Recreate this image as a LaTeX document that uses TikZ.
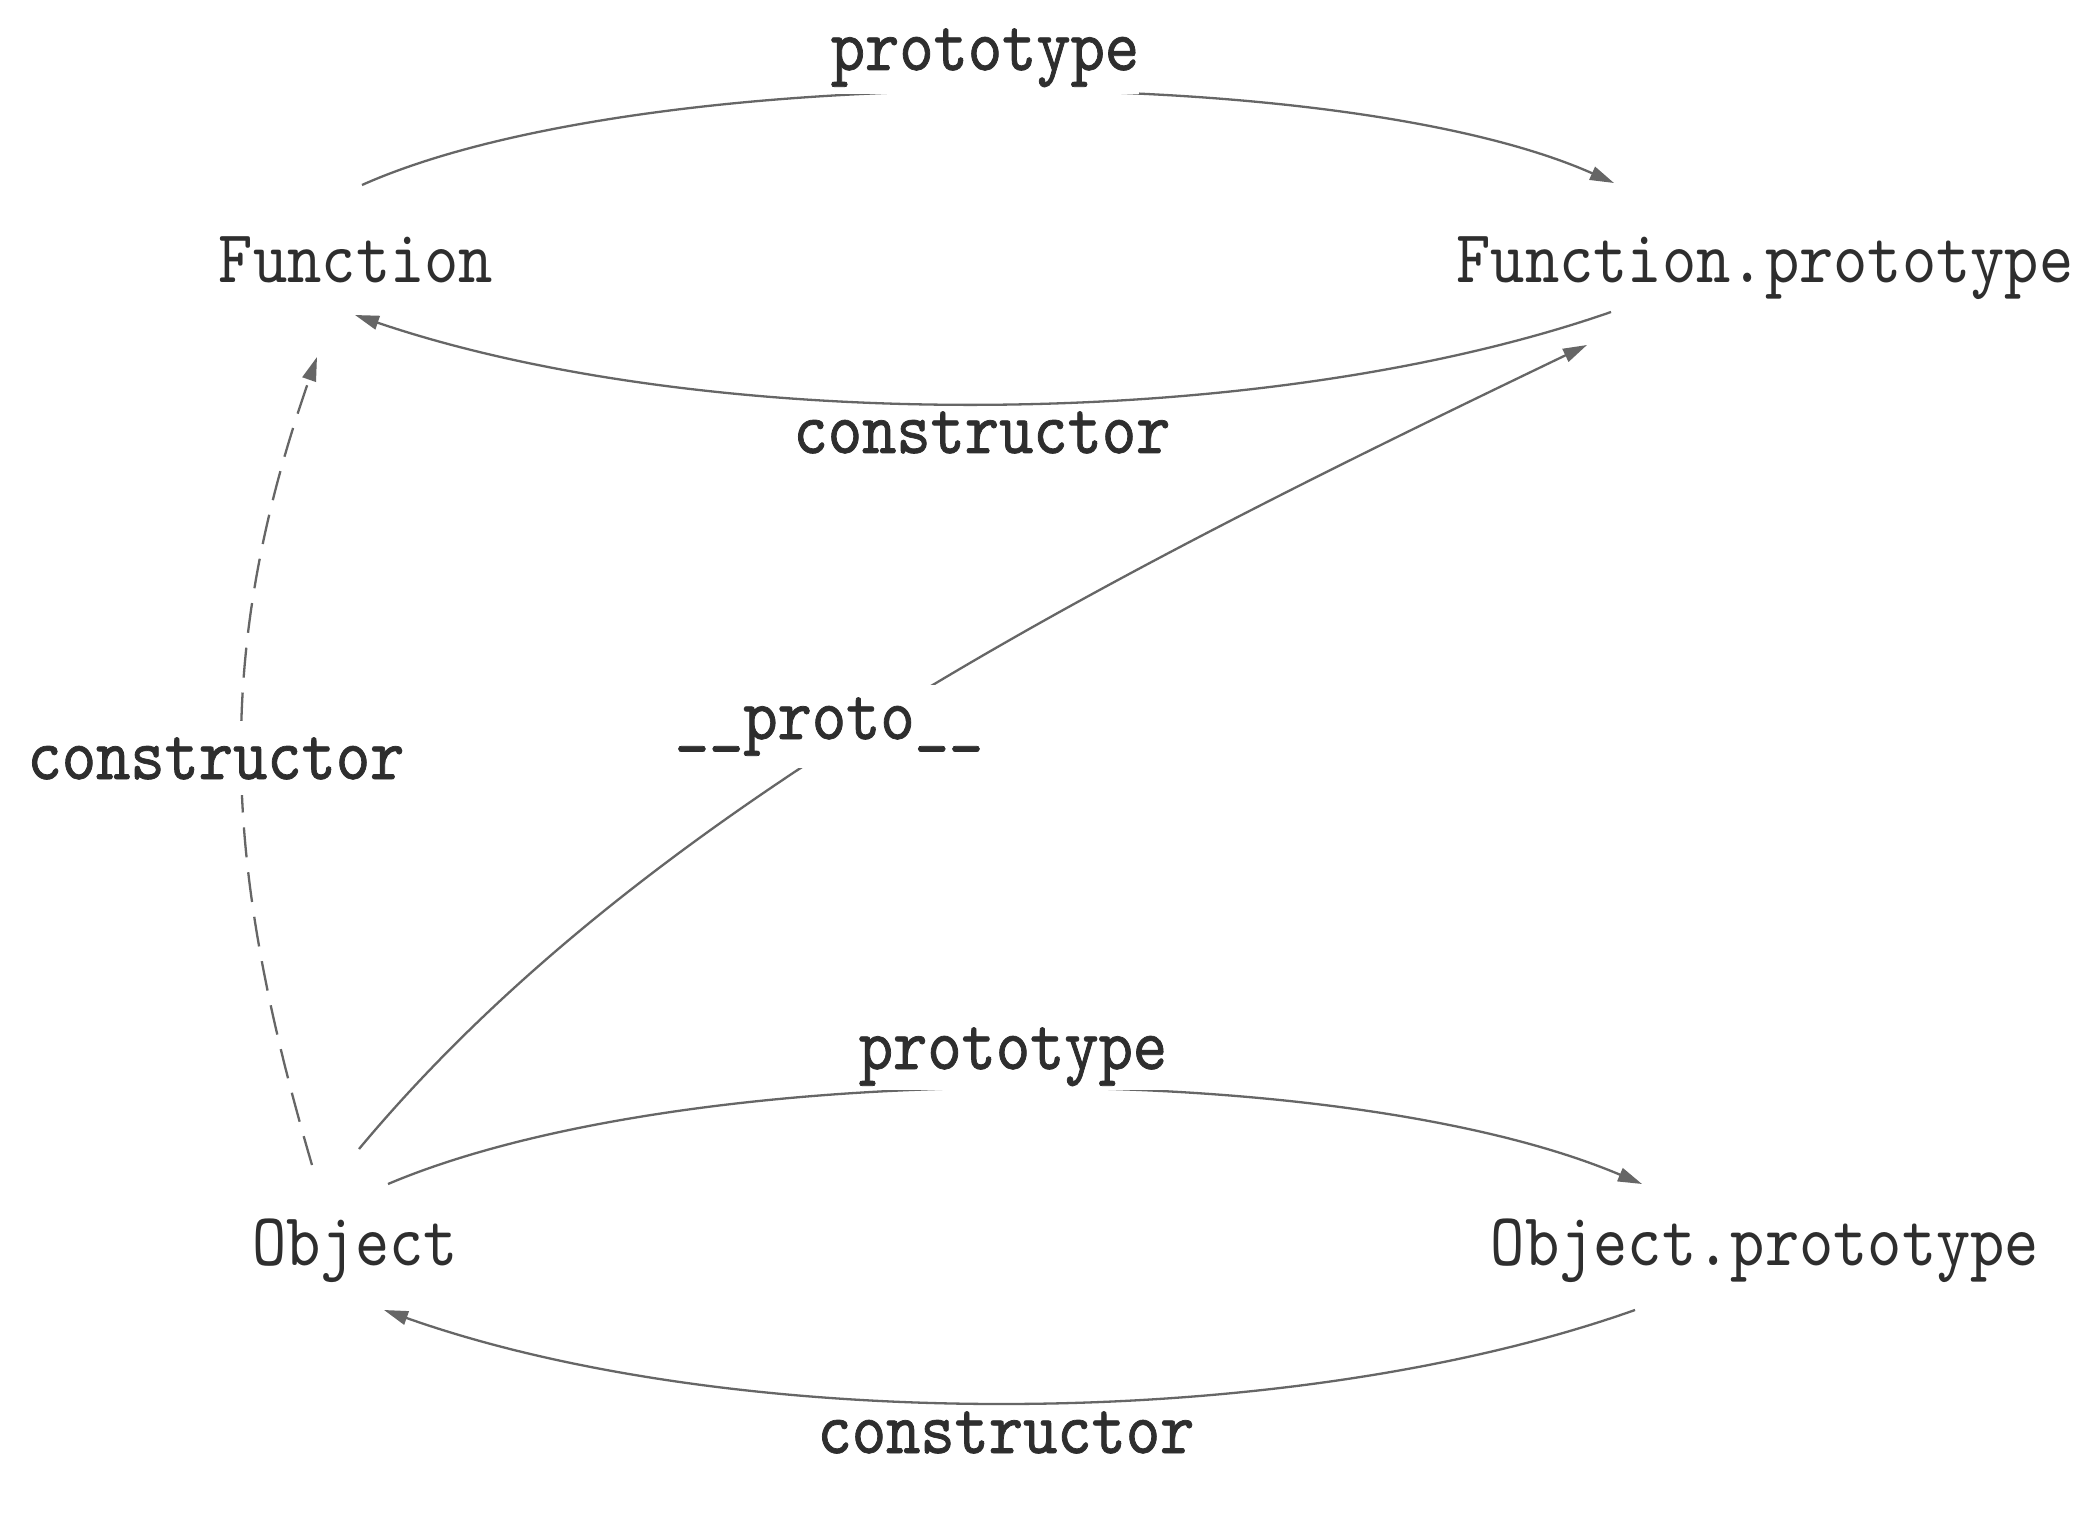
\documentclass[tikz,border=0pt]{standalone}
\usepackage{fontspec}
\usetikzlibrary{arrows.meta,calc}
\newfontfamily\nodefnt{lmmono10-regular}[Extension=.otf,FakeStretch=0.87]
\newfontfamily\labfnt{lmmono10-regular}[Extension=.otf,FakeStretch=0.87,FakeBold=1.0]
\definecolor{edgegray}{HTML}{666666}
\definecolor{txtgray}{HTML}{2E2E2E}
\tikzset{
  objnode/.style={inner sep=0pt, anchor=base, text=txtgray,
    font=\nodefnt\fontsize{37.5pt}{40pt}\selectfont},
  edgelabel/.style={inner xsep=1pt, inner ysep=2pt, anchor=base, fill=white, text=txtgray,
    font=\labfnt\fontsize{37.5pt}{40pt}\selectfont},
  link/.style={draw=edgegray, line width=1.15pt,
    -{Triangle[length=12pt,width=7pt]}},
  dashlink/.style={link, dash pattern=on 15pt off 7.5pt}
}
\begin{document}
\begin{tikzpicture}[x=0.5pt,y=-0.5pt]
\useasboundingbox (0,0) rectangle (2100,1524);
\fill[white] (0,0) rectangle (2100,1524);

% nodes
\node[objnode] (F)  at (356,283)  {Function};
\node[objnode] (FP) at (1765,283) {Function.prototype};
\node[objnode] (O)  at (355,1265) {Object};
\node[objnode] (OP) at (1765,1265) {Object.prototype};

% connectors
\draw[link] ($(F.base)+(6,-98)$) .. controls +(278,-124) and +(-274,-122) .. ($(FP.base)+(-151,-100)$);
\draw[link] ($(FP.base)+(-154,29)$) .. controls +(-351,122) and +(350,119) .. ($(F.base)+(-1,32)$);
\draw[link] ($(O.base)+(4,-116)$) .. controls +(280,-336) and +(-500,240) .. ($(FP.base)+(-178,62)$);
\draw[dashlink] ($(O.base)+(-43,-100)$) .. controls +(-85,-290) and +(-108,309) .. ($(F.base)+(-39,74)$);
\draw[link] ($(O.base)+(33,-81)$) .. controls +(300,-127) and +(-300,-127) .. ($(OP.base)+(-123,-81)$);
\draw[link] ($(OP.base)+(-130,45)$) .. controls +(-350,124) and +(350,124) .. ($(O.base)+(29,45)$);

% labels
\node[edgelabel, inner ysep=3.5pt, inner xsep=0pt] (l1) at (985,70) {prototype};
\node[edgelabel] (l2) at (982,453) {constructor};
\node[edgelabel, inner ysep=6pt] (l3) at (829,739) {\_\_proto\_\_};
\node[edgelabel, inner ysep=8pt] (l4) at (216,779) {constructor};
\node[edgelabel] (l5) at (1013,1069) {prototype};
\node[edgelabel] (l6) at (1006,1453) {constructor};
\end{tikzpicture}
\end{document}
